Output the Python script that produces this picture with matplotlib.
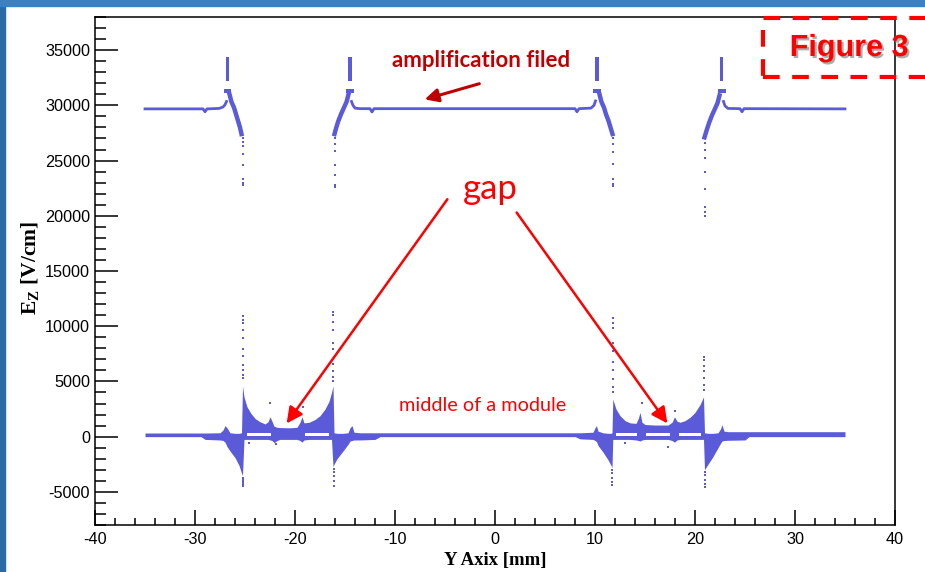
import numpy as np
import matplotlib
matplotlib.use('Agg')
import matplotlib.pyplot as plt
from matplotlib.ticker import MultipleLocator
from matplotlib.patches import Rectangle
import matplotlib.patheffects as pe

plt.rcParams['font.family'] = ['Liberation Sans', 'DejaVu Sans']
plt.rcParams['axes.unicode_minus'] = False
plt.rcParams['mathtext.fontset'] = 'custom'
plt.rcParams['mathtext.rm'] = 'Liberation Serif:bold'
plt.rcParams['mathtext.bf'] = 'Liberation Serif:bold'

### amplification field (upper curve) ###
ampA_x = [-35.0, -29.2, -29.0, -28.8, -27.6, -27.2, -27.0, -26.85]
ampA_y = [29680, 29680, 29420, 29680, 29720, 29850, 30050, 30350]
ampA_rx = [-26.55, -26.35, -26.1, -25.9, -25.7, -25.5, -25.35]
ampA_ry = [31000, 30300, 29800, 29200, 28600, 28000, 27400]

ampB_lx = [-16.05, -15.9, -15.7, -15.4, -15.1, -14.85, -14.65]
ampB_ly = [27400, 27900, 28500, 29200, 29800, 30300, 31000]
ampB_x = [-14.35, -14.2, -14.0, -13.5, -12.5, -12.3, -12.1, 8.0, 8.2, 8.4, 9.6, 9.9, 10.05]
ampB_y = [30350, 30000, 29750, 29700, 29700, 29400, 29700, 29700, 29420, 29700, 29750, 30000, 30400]
ampB_rx = [10.45, 10.65, 10.9, 11.1, 11.35, 11.55, 11.75]
ampB_ry = [31000, 30300, 29800, 29200, 28600, 28000, 27400]

ampC_lx = [20.95, 21.15, 21.4, 21.7, 22.0, 22.25, 22.45]
ampC_ly = [27100, 27700, 28400, 29100, 29700, 30200, 30900]
ampC_x = [22.85, 23.0, 23.3, 24.5, 24.7, 24.9, 35.0]
ampC_y = [30350, 29950, 29720, 29700, 29420, 29700, 29680]

# spikes above the upper curve (two slightly offset columns each)
spike_x = [-26.85, -26.72, -14.57, -14.45, 10.13, 10.26, 22.6, 22.72]
spike_y = [32300, 32450, 32600, 32750, 32900, 33050, 33200, 33350, 33500, 33650, 33800, 33950, 34100, 34300]
side_x = [-26.95, -26.6, -14.7, -14.3, 10.0, 10.4, 22.45, 22.85]
side_y = [31300, 31300, 31300, 31300, 31300, 31300, 31300, 31300]

# dots falling off the branch ends
tail_x = [-25.25, -16.05, 11.8, 20.95]
tail_y = [[27000, 26700, 26300, 25600, 24600, 23300, 23000, 22800],
          [27000, 26500, 25900, 24600, 23700, 22800, 22600],
          [27000, 26500, 25800, 24700, 23300, 22900, 22700],
          [26600, 26000, 25200, 24000, 22400, 20800, 20300, 20000]]

### field near the mesh (lower band) ###
band_x = [-35.0, -29.4, -29.0, -27.5, -27.2, -27.0, -26.8, -26.5, -26.0, -25.6, -25.35,
          -25.25, -25.1, -24.8, -24.4, -24.0, -23.5, -23.0, -22.7, -22.5, -22.3, -22.1,
          -21.8, -21.5, -20.5, -19.8, -19.5, -19.3, -19.1, -18.6, -18.0, -17.5, -17.0,
          -16.6, -16.35, -16.2, -16.1, -15.8, -15.2, -14.7, -14.5, -14.3, -14.1, -13.5,
          -12.0, -11.5, 8.0, 8.5, 9.8, 10.0, 10.15, 10.3, 10.8, 11.3, 11.6, 11.7,
          11.78, 12.1, 12.5, 13.0, 13.5, 14.1, 14.35, 14.5, 14.7, 15.0, 16.0, 17.3,
          17.7, 17.95, 18.2, 18.5, 19.0, 19.5, 20.0, 20.5, 20.85, 20.95, 21.3, 21.8,
          22.3, 22.55, 22.7, 22.9, 23.3, 25.0, 25.4, 35.0]
band_top = [330, 330, 330, 350, 600, 1000, 800, 350, 300, 300, 350,
            4600, 3600, 2700, 2100, 1650, 1350, 1150, 1350, 1800, 1400, 950,
            850, 820, 800, 850, 1300, 1800, 1250, 1300, 1550, 1900, 2500,
            3200, 4000, 4600, 350, 300, 300, 350, 800, 1000, 400, 350,
            350, 350, 350, 350, 400, 800, 1000, 500, 350, 300, 300, 350,
            3400, 2500, 1900, 1450, 1250, 1200, 1700, 2200, 1300, 1100, 1050, 1050,
            1300, 1800, 1400, 1300, 1450, 1750, 2200, 2900, 3600, 350, 300, 300,
            350, 700, 1080, 500, 450, 450, 450, 450]
band_bot = [0, 0, -250, -300, -350, -500, -900, -1300, -1900, -2600, -3300,
            -3500, -250, -250, -250, -250, -250, -250, -250, -300, -350, -550,
            -350, -250, -250, -250, -350, -500, -300, -250, -250, -250, -250,
            -250, -250, -2700, -2500, -2000, -1300, -700, -400, -350, -300, -300,
            -250, 0, 0, -200, -250, -350, -450, -800, -1400, -2100, -2600, -2800,
            -250, -250, -250, -250, -250, -300, -350, -400, -300, -250, -250, -250,
            -350, -500, -300, -250, -250, -250, -250, -250, -250, -3000, -2500, -1800,
            -1000, -600, -400, -350, -330, -300, 0, 0]

# thin empty strip inside the band in the gap regions
hollow_x0 = [-24.8, -19.0, 12.1, 15.1, 18.4]
hollow_x1 = [-22.4, -16.6, 14.2, 17.5, 20.6]

# scattered points above / below the lobes
lobe_x = [-25.22, -16.2, 11.75, 20.9, -25.25, -16.15, 11.72, 20.95]
lobe_y = [[5300, 5600, 6000, 6500, 7300, 7900, 8900, 9700, 10300, 10600, 10900],
          [5000, 5400, 5900, 6600, 7900, 8500, 9700, 10400, 11000, 11300],
          [4000, 4500, 5200, 6000, 6800, 7800, 8500, 9800, 10300, 10700],
          [4200, 4700, 5300, 5900, 6400, 6900, 7200],
          [-3700, -3900, -4100, -4300, -4500],
          [-2900, -3200, -3600, -4000, -4450],
          [-3000, -3300, -3700, -4100, -4400],
          [-3200, -3500, -3900, -4300, -4600]]
lone_x = [-22.5, -19.25, 14.7, 17.95, -24.6, -21.9, 13.0, 17.3]
lone_y = [3050, 2700, 3050, 2300, -550, -700, -600, -900]

blue = '#5b5bd9'

fig = plt.figure(figsize=(9.25, 5.72), dpi=100)
ax = fig.add_axes([95/925, 1 - 525/572, 800/925, 508/572])

ax.fill_between(band_x, band_bot, band_top, color=blue, lw=0, zorder=2)
for a, b in zip(hollow_x0, hollow_x1):
    ax.fill_between([a, b], [40, 40], [290, 290], color='white', lw=0, zorder=3)

for xs, ys in [(ampA_x, ampA_y), (ampB_x, ampB_y), (ampC_x, ampC_y)]:
    ax.plot(xs, ys, color=blue, lw=2, zorder=2)
for xs, ys in [(ampA_rx, ampA_ry), (ampB_lx, ampB_ly), (ampB_rx, ampB_ry), (ampC_lx, ampC_ly)]:
    ax.plot(xs, ys, color=blue, lw=3.2, zorder=2)

for sx in spike_x:
    ax.plot([sx] * len(spike_y), spike_y, 's', color=blue, ms=2.0, mew=0, zorder=2)
ax.plot(side_x, side_y, 's', color=blue, ms=2.4, mew=0, zorder=2)
for tx, ty in zip(tail_x, tail_y):
    ax.plot([tx] * len(ty), ty, 's', color=blue, ms=2.0, mew=0, zorder=2)
for lx, ly in zip(lobe_x, lobe_y):
    ax.plot([lx] * len(ly), ly, 's', color=blue, ms=2.0, mew=0, zorder=2)
ax.plot(lone_x, lone_y, 's', color=blue, ms=2.0, mew=0, zorder=2)

ax.set_xlim(-40, 40)
ax.set_ylim(-8000, 38000)
ax.xaxis.set_major_locator(MultipleLocator(10))
ax.xaxis.set_minor_locator(MultipleLocator(2))
ax.yaxis.set_major_locator(MultipleLocator(5000))
ax.yaxis.set_minor_locator(MultipleLocator(1000))
ax.tick_params(axis='both', which='both', direction='in', width=1.1, top=False, right=False, labelsize=11.7)
ax.tick_params(axis='y', which='major', length=16.5, pad=3.6)
ax.tick_params(axis='y', which='minor', length=8)
ax.tick_params(axis='x', which='major', length=10.8, pad=5)
ax.tick_params(axis='x', which='minor', length=5.3)
for sp in ax.spines.values():
    sp.set_linewidth(1.1)

ax.set_xlabel('Y Axix [mm]', family='Liberation Serif', fontweight='bold', fontsize=13.5)
ax.xaxis.set_label_coords(0.5, -(560 - 525) / 508)
ax.xaxis.label.set_va('center')
ax.set_ylabel('E$_{\\mathrm{Z}}$ [V/cm]', family='Liberation Serif', fontweight='bold', fontsize=15.5)
ax.yaxis.set_label_coords(-(95 - 31) / 800, (525 - 268) / 508)
ax.yaxis.label.set_va('center')

### slide annotations ###
ax.text(-1.4, 34100, 'amplification filed', color='#c00000', family='Lato', fontweight='bold',
        fontsize=16, ha='center', va='center')
ax.annotate('', xy=(-7.3, 30470), xytext=(-1.3, 32030),
            arrowprops=dict(arrowstyle='-|>', color='#c00000', lw=2.2, mutation_scale=20))
ax.text(-0.5, 22400, 'gap', color='red', family='Lato', fontsize=25, ha='center', va='center')
ax.annotate('', xy=(-21.0, 995), xytext=(-4.6, 21700),
            arrowprops=dict(arrowstyle='-|>', color='red', lw=1.8, mutation_scale=24))
ax.annotate('', xy=(17.4, 995), xytext=(2.0, 20500),
            arrowprops=dict(arrowstyle='-|>', color='red', lw=1.8, mutation_scale=24))
ax.text(-1.2, 2850, 'middle of a module', color='red', family='Lato', fontsize=14.3,
        ha='center', va='center')

# slide frame and figure tag
fig.patches.append(Rectangle((0, 0), 5/925, 1, transform=fig.transFigure, color='#2a6aa6', zorder=5))
fig.patches.append(Rectangle((0, 1 - 6/572), 1, 6/572, transform=fig.transFigure, color='#3a80c2', zorder=5))
fig.patches.append(Rectangle((763/925, 1 - 77/572), 0.3, 59/572, transform=fig.transFigure,
                             fill=False, ec='red', lw=3, ls=(0, (4, 3)), zorder=6))
fig.text(849/925, 1 - 48/572, 'Figure 3', ha='center', va='center', fontsize=22, fontweight='bold',
         color='red', family='Liberation Sans',
         path_effects=[pe.withSimplePatchShadow(offset=(1.5, -1.5), shadow_rgbFace='#777777', alpha=0.6)])

fig.savefig('out.png', dpi=100)
